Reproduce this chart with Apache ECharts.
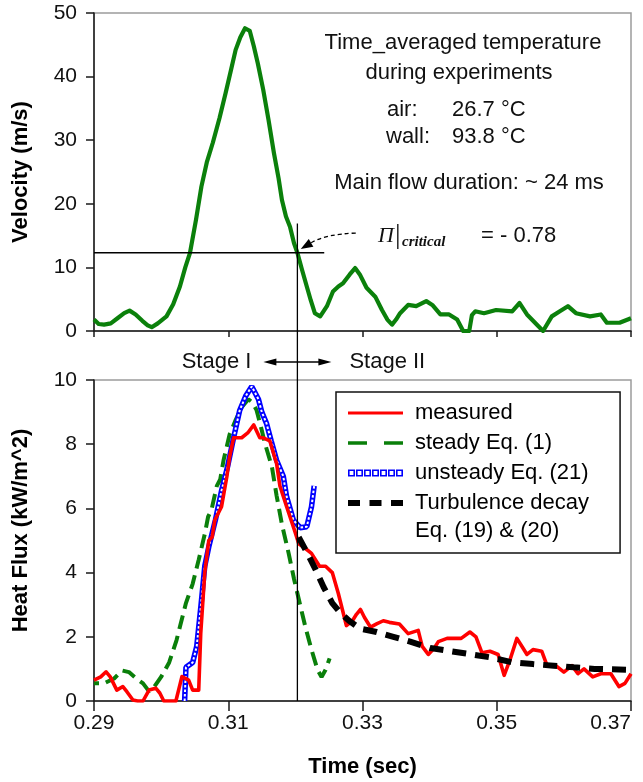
<!DOCTYPE html>
<html>
<head>
<meta charset="utf-8">
<script src="https://cdn.jsdelivr.net/npm/echarts@6/dist/echarts.min.js"></script>
<style>
html,body{margin:0;padding:0;background:#ffffff;}
#chart{width:643px;height:782px;}
</style>
</head>
<body>
<div id="chart"></div>
<script>
// ---------- data ----------
// Top panel: velocity (m/s) versus time (sec)
const velocityTime = [0.2900,0.2907,0.2915,0.2925,0.2935,0.2945,0.2953,0.2962,0.2972,0.2980,0.2986,0.2995,0.3008,0.3018,0.3028,0.3036,0.3043,0.3052,0.3060,0.3068,0.3077,0.3087,0.3096,0.3104,0.3111,0.3118,0.3125,0.3132,0.3138,0.3144,0.3152,0.3160,0.3168,0.3175,0.3180,0.3186,0.3192,0.3198,0.3203,0.3210,0.3217,0.3223,0.3229,0.3237,0.3247,0.3256,0.3264,0.3271,0.3281,0.3289,0.3296,0.3306,0.3319,0.3329,0.3337,0.3344,0.3350,0.3356,0.3368,0.3380,0.3395,0.3404,0.3416,0.3429,0.3441,0.3450,0.3459,0.3463,0.3468,0.3481,0.3499,0.3523,0.3534,0.3545,0.3557,0.3569,0.3582,0.3594,0.3606,0.3618,0.3639,0.3655,0.3664,0.3683,0.3700];
const velocityValues = [1.8,1.1,1.0,1.2,2.0,2.8,3.2,2.6,1.6,0.9,0.6,1.2,2.3,4.2,7.0,10.0,12.3,17.5,22.7,26.5,29.6,33.5,37.4,41.0,44.2,46.2,47.6,47.2,44.8,42.1,38.0,33.2,28.0,24.0,20.6,18.0,16.4,13.8,12.3,9.6,7.0,4.8,2.8,2.3,3.9,6.2,7.0,7.5,8.9,9.9,8.9,6.8,5.4,3.3,1.8,1.0,1.8,2.8,4.1,3.9,4.7,4.1,2.6,2.6,1.8,0,0,2.5,3.1,2.8,3.3,3.1,4.4,2.6,1.3,0,2.3,3.1,3.9,2.8,2.3,2.6,1.3,1.3,2.0];

// Bottom panel: heat flux (kW/m^2) versus time (sec)
const measuredTime = [0.2900,0.2910,0.2918,0.2924,0.2934,0.2943,0.2949,0.2958,0.2965,0.2973,0.2982,0.2992,0.2998,0.3004,0.3022,0.3031,0.3041,0.3047,0.3056,0.3059,0.3065,0.3071,0.3076,0.3080,0.3090,0.3098,0.3102,0.3108,0.3112,0.3120,0.3129,0.3138,0.3147,0.3152,0.3162,0.3172,0.3177,0.3187,0.3199,0.3205,0.3215,0.3224,0.3236,0.3245,0.3255,0.3264,0.3270,0.3276,0.3285,0.3291,0.3297,0.3303,0.3312,0.3321,0.3331,0.3340,0.3355,0.3368,0.3383,0.3389,0.3398,0.3407,0.3413,0.3426,0.3447,0.3460,0.3469,0.3478,0.3490,0.3502,0.3511,0.3520,0.3530,0.3539,0.3545,0.3554,0.3567,0.3575,0.3588,0.3600,0.3612,0.3621,0.3630,0.3643,0.3655,0.3670,0.3682,0.3691,0.3700];
const measuredValues = [0.65,0.75,0.91,0.76,0.34,0.45,0.29,0.03,0,0,0.34,0.40,0.25,0,0,0.76,0.65,0.34,0.34,2.1,4.0,5.0,5.1,5.64,6.05,7.0,7.6,8.2,8.2,8.2,8.35,8.6,8.2,8.2,8.1,7.4,6.7,6.05,5.3,4.9,4.75,4.6,4.2,4.2,4.0,3.35,2.85,2.35,2.5,2.7,2.85,2.6,2.3,2.4,2.5,2.45,2.4,2.1,2.2,1.7,1.45,1.65,1.85,1.95,1.95,2.15,2.0,1.5,1.55,1.45,0.8,1.3,1.95,1.65,1.45,1.6,1.55,1.1,1.1,0.9,1.1,0.85,1.0,0.75,0.85,0.85,0.45,0.55,0.85];

const steadyTime = [0.2900,0.2915,0.2930,0.2942,0.2952,0.2963,0.2973,0.2982,0.2990,0.3000,0.3012,0.3023,0.3037,0.3047,0.3056,0.3065,0.3070,0.3075,0.3083,0.3088,0.3093,0.3102,0.3111,0.3120,0.3130,0.3136,0.3142,0.3148,0.3155,0.3165,0.3172,0.3180,0.3190,0.3198,0.3207,0.3215,0.3224,0.3233,0.3239,0.3245,0.3251];
const steadyValues = [0.55,0.55,0.7,0.95,0.9,0.7,0.55,0.3,0.45,0.75,1.2,1.9,3.05,3.65,4.4,5.2,5.74,5.95,6.7,6.9,7.5,8.3,8.75,9.15,9.4,9.3,9.07,8.6,8.0,7.3,6.4,5.5,4.6,3.8,3.0,2.3,1.6,0.97,0.75,0.97,1.33];

const unsteadyTime = [0.3035,0.3037,0.3047,0.3053,0.3059,0.3065,0.3071,0.3081,0.3090,0.3099,0.3108,0.3117,0.3126,0.3135,0.3145,0.3150,0.3157,0.3164,0.3172,0.3182,0.3187,0.3197,0.3207,0.3217,0.3224,0.3228];
const unsteadyValues = [0,1.05,1.2,1.7,2.9,4.2,4.8,5.65,6.55,7.3,8.2,9.05,9.5,9.8,9.4,9.0,8.65,8.1,7.5,7.0,6.36,5.64,5.4,5.43,6.05,6.7];

const decayTime = [0.3205,0.3218,0.3230,0.3242,0.3255,0.3267,0.3280,0.3297,0.3321,0.3346,0.3371,0.3401,0.3432,0.3463,0.3493,0.3524,0.3554,0.3585,0.3615,0.3646,0.3700];
const decayValues = [5.1,4.6,4.1,3.55,3.05,2.75,2.5,2.25,2.15,2.0,1.85,1.65,1.55,1.45,1.35,1.2,1.15,1.1,1.05,1.0,0.97];

// Critical point annotation (time, velocity)
const criticalTime = 0.3203;
const criticalVelocity = 12.3;
const criticalLineTopVelocity = 16.9;
const velocityGuideTime = [0.2900, 0.3243];
const arrowFrom = [0.3290, 15.4];
const arrowTo = [0.3208, 12.9];

// Axis ticks and labels
const xTickLabels = ['0.29', '0.31', '0.33', '0.35', '0.37'];
const velocityTickLabels = ['0', '10', '20', '30', '40', '50'];
const fluxTickLabels = ['0', '2', '4', '6', '8', '10'];

// Series names
const seriesNames = ['measured', 'steady Eq. (1)', 'unsteady Eq. (21)', 'Turbulence decay'];

// ---------- chart ----------
const SANS = '"Liberation Sans", Arial, sans-serif';
const SERIF = '"Liberation Serif", "Times New Roman", serif';
const pairs = (t, v) => t.map((x, i) => [x, v[i]]);

const unsteadyIconParts = [];
for (let i = 0; i < 7; i++) {
  const x = i * 8;
  unsteadyIconParts.push('M' + x + ',0H' + (x + 7) + 'V7H' + x + 'Z');
  unsteadyIconParts.push('M' + (x + 1.6) + ',1.6V5.4H' + (x + 5.4) + 'V1.6Z');
}

const chart = echarts.init(document.getElementById('chart'), null, { renderer: 'canvas' });

const axisLineStyle = { color: '#1a1a1a', width: 1.5 };
const xAxisBase = {
  type: 'value', min: 0.29, max: 0.37, interval: 0.02,
  axisLine: { show: true, onZero: false, lineStyle: axisLineStyle },
  splitLine: { show: false }
};

chart.setOption({
  animation: false,
  backgroundColor: '#ffffff',
  textStyle: { fontFamily: SANS },
  grid: [
    { left: 94, right: 12, top: 13, height: 318, show: true, borderColor: '#9c9c9c', borderWidth: 1.5, backgroundColor: '#ffffff', containLabel: false, outerBoundsMode: 'none' },
    { left: 94, right: 12, top: 380, height: 321, show: true, borderColor: '#9c9c9c', borderWidth: 1.5, backgroundColor: '#ffffff', containLabel: false, outerBoundsMode: 'none' }
  ],
  xAxis: [
    Object.assign({}, xAxisBase, {
      gridIndex: 0,
      axisTick: { show: true, length: 6, lineStyle: { color: '#1a1a1a', width: 1.5 } },
      axisLabel: { show: false }
    }),
    Object.assign({}, xAxisBase, {
      gridIndex: 1,
      axisTick: { show: true, length: 10, lineStyle: { color: '#1a1a1a', width: 1.5 } },
      axisLabel: {
        show: true, margin: 12, fontSize: 21, color: '#111', fontFamily: SANS,
        alignMaxLabel: 'right',
        formatter: (v) => xTickLabels[Math.round((v - 0.29) / 0.02)]
      },
      name: 'Time (sec)', nameLocation: 'middle', nameGap: 55,
      nameTextStyle: { fontSize: 22, fontWeight: 'bold', color: '#000', fontFamily: SANS }
    })
  ],
  yAxis: [
    {
      type: 'value', gridIndex: 0, min: 0, max: 50, interval: 10,
      axisLine: { show: true, onZero: false, lineStyle: axisLineStyle },
      axisTick: { show: true, length: 8, lineStyle: { color: '#1a1a1a', width: 1.5 } },
      splitLine: { show: false },
      axisLabel: { margin: 17, fontSize: 21, color: '#111', fontFamily: SANS,
        formatter: (v) => velocityTickLabels[Math.round(v / 10)] },
      name: 'Velocity (m/s)', nameLocation: 'middle', nameGap: 62, nameRotate: 90,
      nameTextStyle: { fontSize: 22, fontWeight: 'bold', color: '#000', fontFamily: SANS }
    },
    {
      type: 'value', gridIndex: 1, min: 0, max: 10, interval: 2,
      axisLine: { show: true, onZero: false, lineStyle: axisLineStyle },
      axisTick: { show: true, length: 8, lineStyle: { color: '#1a1a1a', width: 1.5 } },
      splitLine: { show: false },
      axisLabel: { margin: 17, fontSize: 21, color: '#111', fontFamily: SANS,
        formatter: (v) => fluxTickLabels[Math.round(v / 2)] },
      name: 'Heat Flux (kW/m^2)', nameLocation: 'middle', nameGap: 62, nameRotate: 90,
      nameTextStyle: { fontSize: 22, fontWeight: 'bold', color: '#000', fontFamily: SANS, padding: [0, 0, 0, 20] }
    }
  ],
  legend: {
    orient: 'vertical', left: 336, top: 392,
    padding: [10, 31, 39, 12],
    borderColor: '#111', borderWidth: 1.5, backgroundColor: '#ffffff',
    itemWidth: 55, itemHeight: 14, itemGap: 8,
    symbolKeepAspect: true,
    selectedMode: false,
    textStyle: { fontSize: 22, lineHeight: 22, color: '#000', fontFamily: SANS, padding: [0, 0, 0, 7] },
    data: [
      { name: seriesNames[0], icon: 'path://M0,0H55V3H0Z', itemStyle: { color: '#ff0000', borderWidth: 0 } },
      { name: seriesNames[1], icon: 'path://M0,0H19V3.5H0ZM36,0H55V3.5H36Z', itemStyle: { color: '#0a7f0a', borderWidth: 0 } },
      { name: seriesNames[2], icon: 'path://' + unsteadyIconParts.join(''), itemStyle: { color: '#0000ff', borderWidth: 0 } },
      { name: seriesNames[3], icon: 'path://M0,0H12V6H0ZM21.5,0H33.5V6H21.5ZM43,0H55V6H43Z', itemStyle: { color: '#000000', borderWidth: 0 } }
    ]
  },
  series: [
    {
      name: 'Velocity', type: 'line', xAxisIndex: 0, yAxisIndex: 0,
      data: pairs(velocityTime, velocityValues),
      symbol: 'none', showSymbol: false,
      lineStyle: { color: '#0b800b', width: 4.2, join: 'round' }, color: '#0b800b', z: 3
    },
    {
      name: 'critical velocity guide', type: 'line', xAxisIndex: 0, yAxisIndex: 0,
      data: velocityGuideTime.map((t) => [t, criticalVelocity]),
      symbol: 'none', showSymbol: false,
      lineStyle: { color: '#000', width: 1.3 }, color: '#000', z: 4
    },
    {
      name: seriesNames[1], type: 'line', xAxisIndex: 1, yAxisIndex: 1,
      data: pairs(steadyTime, steadyValues),
      symbol: 'none', showSymbol: false,
      lineStyle: { color: '#0a7f0a', width: 4, type: [14, 7], dashOffset: 9 }, color: '#0a7f0a', z: 3
    },
    {
      name: seriesNames[2], type: 'line', xAxisIndex: 1, yAxisIndex: 1,
      data: pairs(unsteadyTime, unsteadyValues),
      symbol: 'none', showSymbol: false,
      lineStyle: { color: '#0000ff', width: 5.5 }, color: '#0000ff', z: 4
    },
    {
      name: 'unsteady squares', type: 'line', xAxisIndex: 1, yAxisIndex: 1,
      data: pairs(unsteadyTime, unsteadyValues),
      symbol: 'none', showSymbol: false,
      lineStyle: { color: '#ffffff', width: 2, type: [2.5, 2] }, color: '#ffffff', z: 5
    },
    {
      name: seriesNames[0], type: 'line', xAxisIndex: 1, yAxisIndex: 1,
      data: pairs(measuredTime, measuredValues),
      symbol: 'none', showSymbol: false,
      lineStyle: { color: '#ff0000', width: 3.6, join: 'round' }, color: '#ff0000', z: 6
    },
    {
      name: seriesNames[3], type: 'line', xAxisIndex: 1, yAxisIndex: 1,
      data: pairs(decayTime, decayValues),
      symbol: 'none', showSymbol: false,
      lineStyle: { color: '#000000', width: 6, type: [14, 9] }, color: '#000000', z: 7
    }
  ]
});

// ---------- annotations placed through the axes' own scales ----------
const pTop = chart.convertToPixel({ gridIndex: 0 }, [criticalTime, criticalLineTopVelocity]);
const pBottom = chart.convertToPixel({ gridIndex: 1 }, [criticalTime, 0]);
const pGrid1Top = chart.convertToPixel({ gridIndex: 1 }, [criticalTime, 10]);
const aFrom = chart.convertToPixel({ gridIndex: 0 }, arrowFrom);
const aTo = chart.convertToPixel({ gridIndex: 0 }, arrowTo);
const cx = pTop[0];
const stageY = pGrid1Top[1] - 18;

function arrowHead(tip, dirX, dirY, len, half) {
  const n = Math.hypot(dirX, dirY);
  const ux = dirX / n, uy = dirY / n;
  const bx = tip[0] - ux * len, by = tip[1] - uy * len;
  return [[tip[0], tip[1]], [bx - uy * half, by + ux * half], [bx + uy * half, by - ux * half]];
}

const cp = [aFrom[0] - 30, aFrom[1] + 1];
const headPts = arrowHead(aTo, aTo[0] - cp[0], aTo[1] - cp[1], 12, 4.5);
const bodyEnd = [(headPts[1][0] + headPts[2][0]) / 2, (headPts[1][1] + headPts[2][1]) / 2];

const txt = (text, x, y, opts) => Object.assign({
  type: 'text', x: x, y: y, z: 100,
  style: Object.assign({ text: text, fill: '#111', font: '22px ' + SANS, align: 'center', verticalAlign: 'middle' }, opts || {})
});

chart.setOption({
  graphic: [
    { type: 'line', z: 90, shape: { x1: cx, y1: pTop[1], x2: cx, y2: pBottom[1] }, style: { stroke: '#000', lineWidth: 1.3 } },
    { type: 'bezierCurve', z: 90, shape: { x1: aFrom[0], y1: aFrom[1], cpx1: cp[0], cpy1: cp[1], x2: bodyEnd[0], y2: bodyEnd[1] },
      style: { stroke: '#000', lineWidth: 1.3, lineDash: [4, 3], fill: null } },
    { type: 'polygon', z: 90, shape: { points: headPts }, style: { fill: '#000' } },
    // Stage arrows
    { type: 'line', z: 90, shape: { x1: cx - 26, y1: stageY, x2: cx + 26, y2: stageY }, style: { stroke: '#000', lineWidth: 1.3 } },
    { type: 'polygon', z: 90, shape: { points: arrowHead([cx - 34, stageY], -1, 0, 13, 3.5) }, style: { fill: '#000' } },
    { type: 'polygon', z: 90, shape: { points: arrowHead([cx + 34, stageY], 1, 0, 13, 3.5) }, style: { fill: '#000' } },
    txt('Stage I', cx - 46, stageY, { align: 'right' }),
    txt('Stage II', cx + 52, stageY, { align: 'left' }),
    // Text block
    txt('Time_averaged temperature', 463, 43),
    txt('during experiments', 459, 73),
    txt('air:', 387, 110, { align: 'left' }),
    txt('26.7 \u00b0C', 452, 110, { align: 'left' }),
    txt('wall:', 386, 137, { align: 'left' }),
    txt('93.8 \u00b0C', 452, 137, { align: 'left' }),
    txt('Main flow duration: ~ 24 ms', 469, 183),
    txt('\u03a0', 378, 236, { align: 'left', font: 'italic 22px ' + SERIF }),
    txt('|', 395, 236, { align: 'left', font: '28px ' + SERIF }),
    txt('critical', 402, 242, { align: 'left', font: 'italic bold 15px ' + SERIF }),
    txt('= - 0.78', 481, 236, { align: 'left' }),
    // second line of the last legend entry
    txt('Eq. (19) & (20)', 415, 531, { align: 'left', fill: '#000' })
  ]
});
</script>
</body>
</html>
